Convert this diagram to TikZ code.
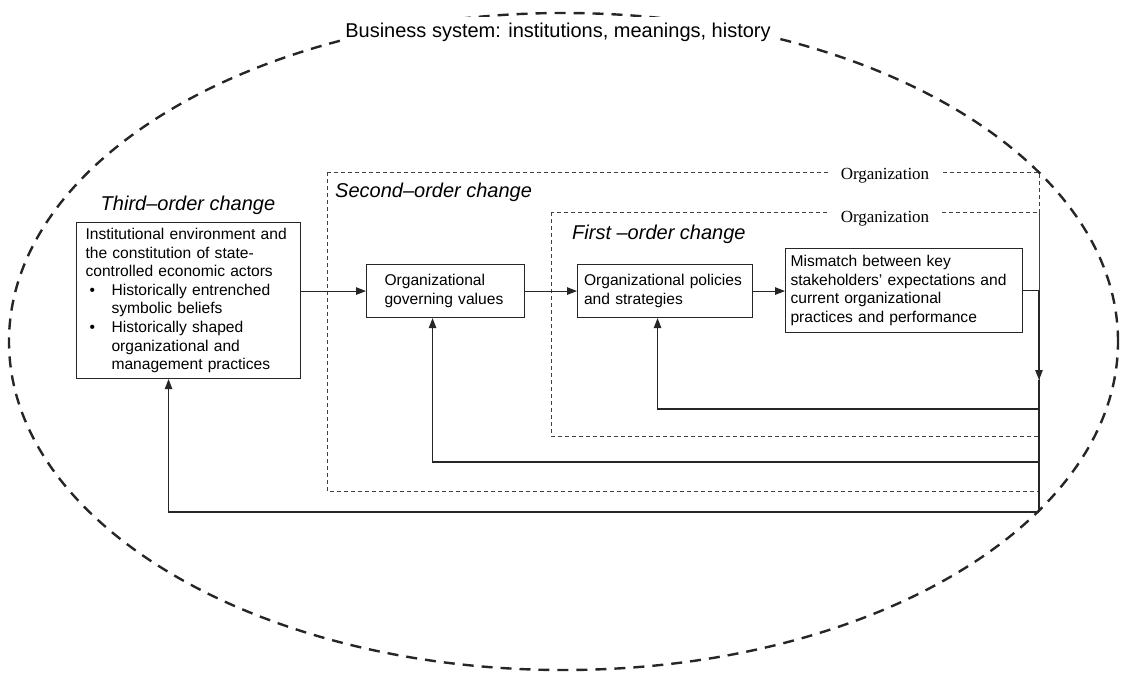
\documentclass[tikz,border=0pt]{standalone}
\usepackage{fontspec}
\setmainfont{Liberation Sans}
\newfontfamily\orgfont{Liberation Serif}
\usetikzlibrary{arrows.meta,calc}
\begin{document}
\begin{tikzpicture}[x=1pt,y=-1pt,
  box/.style={draw=black!85, line width=1.1pt, align=left, font=\fontsize{15.6}{18.6}\selectfont, inner ysep=0pt, anchor=north west},
  ttl/.style={font=\fontsize{20}{24}\selectfont\itshape, inner sep=0pt},
  orgbox/.style={draw=black!75, line width=0.9pt, dash pattern=on 4pt off 3pt},
  orglbl/.style={font=\orgfont\fontsize{17}{20}\selectfont, fill=white, inner xsep=11pt, inner ysep=1pt},
  conn/.style={draw=black!85, line width=1.1pt},
  arr/.style={conn, -{Triangle[length=10pt,width=7.5pt]}},
  ell/.style={draw=black!85, line width=2.4pt, dash pattern=on 11pt off 8pt},
]
\useasboundingbox (0,0) rectangle (1121,673);

% business system ellipse
\draw[ell] (563.5,341.5) ellipse [x radius=554.5pt, y radius=328.5pt];
\node[fill=white, font=\fontsize{20}{24}\selectfont, inner xsep=3pt, minimum height=30pt] (bs) at (558,32) {Business system: institutions, meanings, history};

% organization frames
\draw[orgbox] (327,172) rectangle (1039,491);
\draw[orgbox] (551,212) rectangle (1039,436);
\node[orglbl] (o2) at (885,176) {Organization};
\node[orglbl] (o1) at (885,219) {Organization};

% titles
\node[ttl] (t3) at (188,205) {Third–order change};
\node[ttl, anchor=west] (t2) at (335,192) {Second–order change};
\node[ttl, anchor=west] (t1) at (572,234) {First –order change};

% boxes
\node[box, minimum width=224pt, minimum height=156pt, text width=206pt, inner xsep=9pt] (third) at (76,222)
 {Institutional environment and\\
  the constitution of state-\\
  controlled economic actors\\
  \hspace*{4pt}\makebox[22pt][l]{\textbullet}Historically entrenched\\
  \hspace*{26pt}symbolic beliefs\\
  \hspace*{4pt}\makebox[22pt][l]{\textbullet}Historically shaped\\
  \hspace*{26pt}organizational and\\
  \hspace*{26pt}management practices};
\node[box, minimum width=158pt, minimum height=53pt, text width=122pt, inner xsep=18pt] (gov) at (366,264)
 {Organizational\\ governing values};
\node[box, minimum width=175pt, minimum height=53pt, text width=162pt, inner xsep=6.5pt] (pol) at (577,264)
 {Organizational policies\\ and strategies};
\node[box, minimum width=237pt, minimum height=84pt, text width=227pt, inner xsep=5pt] (mis) at (785,248)
 {Mismatch between key\\ stakeholders’ expectations and\\ current organizational\\ practices and performance};

% connectors
\draw[arr] (third.east |- gov.west) -- (gov.west);
\draw[arr] (gov.east) -- (pol.west);
\draw[arr] (pol.east) -- (mis.west |- pol.east);

\coordinate (rx) at (1039,0);
\coordinate (j) at (mis.east -| rx);
\coordinate (ah) at (1039,380);
\coordinate (c1) at (1039,409);
\coordinate (c2) at (1039,462);
\coordinate (c3) at (1039,512);
\draw[conn] (mis.east) -- (j);
\draw[arr] (j) -- (ah);
\draw[conn] (ah) -- (c3);
\draw[arr] (c1) -| ([xshift=-7.5pt]pol.south);
\draw[arr] (c2) -| ([xshift=-13pt]gov.south);
\draw[arr] (c3) -| ([xshift=-20pt]third.south);
\end{tikzpicture}
\end{document}
